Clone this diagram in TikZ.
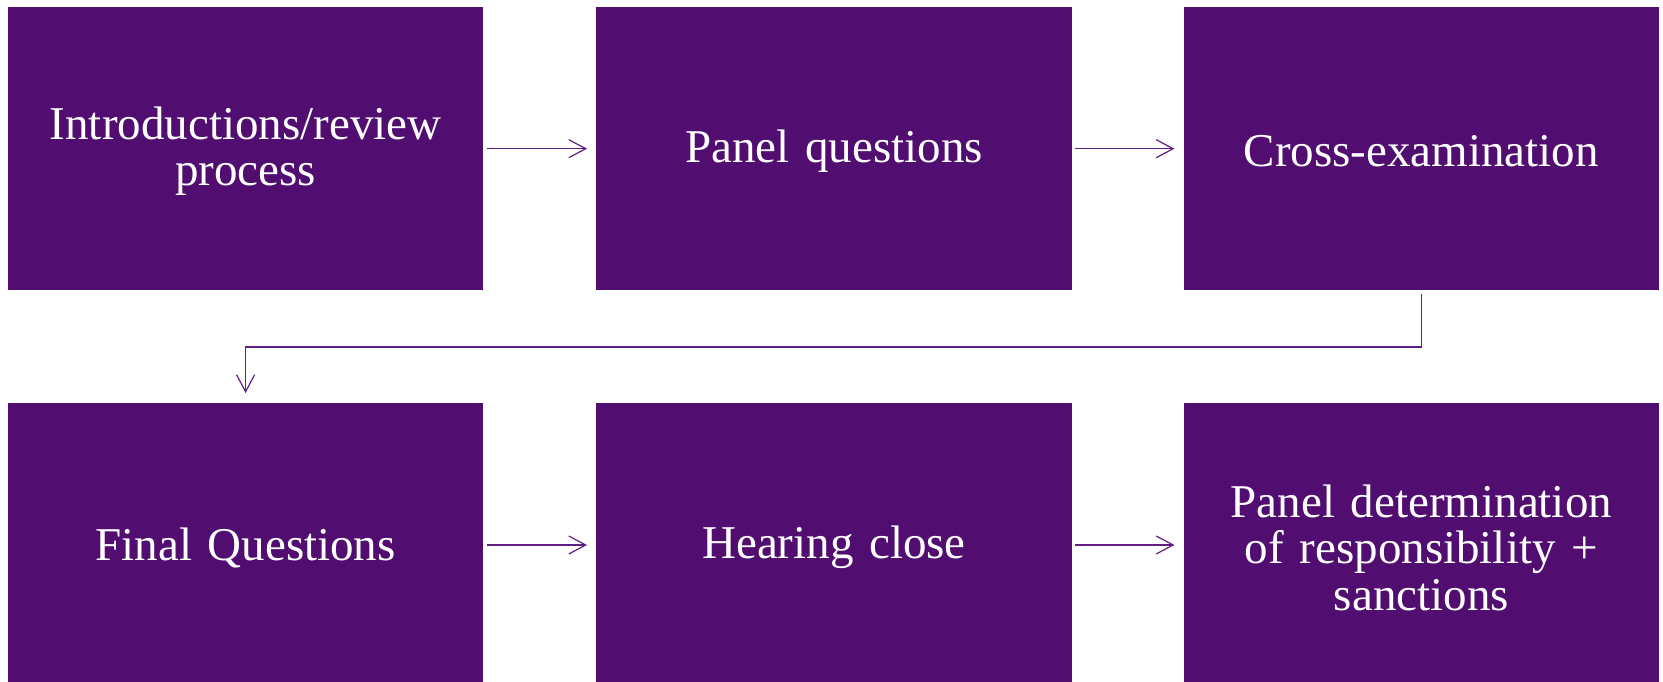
\documentclass[tikz,border=0pt]{standalone}
\usepackage{fontspec}
\setmainfont{Liberation Serif}
\usetikzlibrary{arrows.meta}
\definecolor{boxpurple}{RGB}{81,13,112}
\definecolor{linepurple}{RGB}{96,30,128}
\begin{document}
\begin{tikzpicture}[x=1pt,y=1pt,
  stepbox/.style={fill=boxpurple, draw=none, minimum width=475.5pt, minimum height=283.5pt,
    inner sep=0pt, label={[steptext]center:#1}},
  steptext/.style={text=white, align=center, text width=440pt, inner sep=0pt, yshift=-2.5pt,
    font=\fontsize{47}{46.5}\selectfont},
  flow/.style={draw=linepurple, line width=1.2pt,
    -{Straight Barb[length=17pt,width=18pt,line width=1.2pt]}}]
\useasboundingbox (0,0) rectangle (1663,-682);
\node[stepbox={Introductions/review\\process}] (b1) at (245.6,-148.7) {};
\node[stepbox={Panel questions}] (b2) at (834,-148.7) {};
\node[stepbox={Cross-examination}] (b3) at (1421.4,-148.7) {};
\node[stepbox={Final Questions}] (b4) at (245.6,-545) {};
\node[stepbox={Hearing close}] (b5) at (834,-545) {};
\node[stepbox={Panel determination\\of responsibility +\\sanctions}] (b6) at (1421.4,-545) {};
\draw[flow, shorten <=3pt, shorten >=9pt] (b1) -- (b2);
\draw[flow, shorten <=3pt, shorten >=9pt] (b2) -- (b3);
\draw[flow, shorten <=3pt, shorten >=9pt] (b4) -- (b5);
\draw[flow, shorten <=3pt, shorten >=9pt] (b5) -- (b6);
\coordinate (c1) at (1421.4,-347);
\coordinate (c2) at (245.6,-347);
\draw[flow, shorten <=3pt, shorten >=10pt] (b3.south) -- (c1) -- (c2) -- (b4.north);
\end{tikzpicture}
\end{document}
